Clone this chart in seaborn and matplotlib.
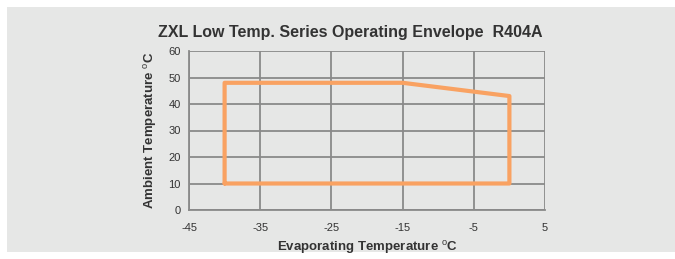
import pandas as pd
import seaborn as sns
import matplotlib.pyplot as plt
from matplotlib.patches import Rectangle

# envelope corners (closed polygon)
evap_temp = [-40, -40, -15, 0, 0, -40]
ambient_temp = [10, 48, 48, 43, 10, 10]
x_ticks = [-45, -35, -25, -15, -5, 5]
y_ticks = [0, 10, 20, 30, 40, 50, 60]

df = pd.DataFrame({'evap': evap_temp, 'ambient': ambient_temp})

sns.set_style('white')
plt.rcParams['font.family'] = ['Liberation Sans', 'DejaVu Sans']
plt.rcParams['axes.unicode_minus'] = False
plt.rcParams['mathtext.fontset'] = 'custom'
plt.rcParams['mathtext.rm'] = 'Liberation Sans'

fig = plt.figure(figsize=(6.75, 2.59), dpi=100, facecolor='white')
# grey panel behind the chart
fig.patches.append(Rectangle((7 / 675, 7 / 259), 1, 245 / 259, transform=fig.transFigure,
                             facecolor='#e6e7e6', edgecolor='none', zorder=-1))

ax = fig.add_axes([189 / 675, 49 / 259, 356 / 675, 159 / 259])
ax.set_facecolor('none')

sns.lineplot(data=df, x='evap', y='ambient', sort=False, estimator=None,
             color='#f9a262', linewidth=3, ax=ax, zorder=3)

ax.set_xlim(-45, 5)
ax.set_ylim(0, 60)
ax.set_xticks(x_ticks)
ax.set_yticks(y_ticks)
ax.grid(True, color='#8a8a8a', linewidth=1.3)
ax.set_axisbelow(True)
for s in ax.spines.values():
    s.set_visible(False)
ax.spines['left'].set_visible(True)
ax.spines['bottom'].set_visible(True)
ax.spines['left'].set_color('#8a8a8a')
ax.spines['bottom'].set_color('#8a8a8a')
ax.spines['left'].set_linewidth(1.3)
ax.spines['bottom'].set_linewidth(1.3)
ax.tick_params(axis='x', direction='inout', length=7, width=1.3, color='#8a8a8a',
               labelsize=8, labelcolor='#333333', pad=6)
ax.tick_params(axis='y', direction='out', length=4, width=1.3, color='#8a8a8a',
               labelsize=8, labelcolor='#333333', pad=2)

ax.set_xlabel(r'Evaporating Temperature $^{\rm o}$C', fontsize=9.5, fontweight='bold',
              color='#333333', labelpad=4)
ax.set_ylabel(r'Ambient Temperature $^{\rm o}$C', fontsize=9.5, fontweight='bold',
              color='#333333', labelpad=7)

fig.text(350 / 675, 227 / 259, 'ZXL Low Temp. Series Operating Envelope  R404A',
         ha='center', va='center', fontsize=11.5, fontweight='bold', color='#333333',
         family=['Liberation Sans Narrow', 'Liberation Sans', 'DejaVu Sans'])

fig.savefig('out.png', dpi=100, facecolor='white')
